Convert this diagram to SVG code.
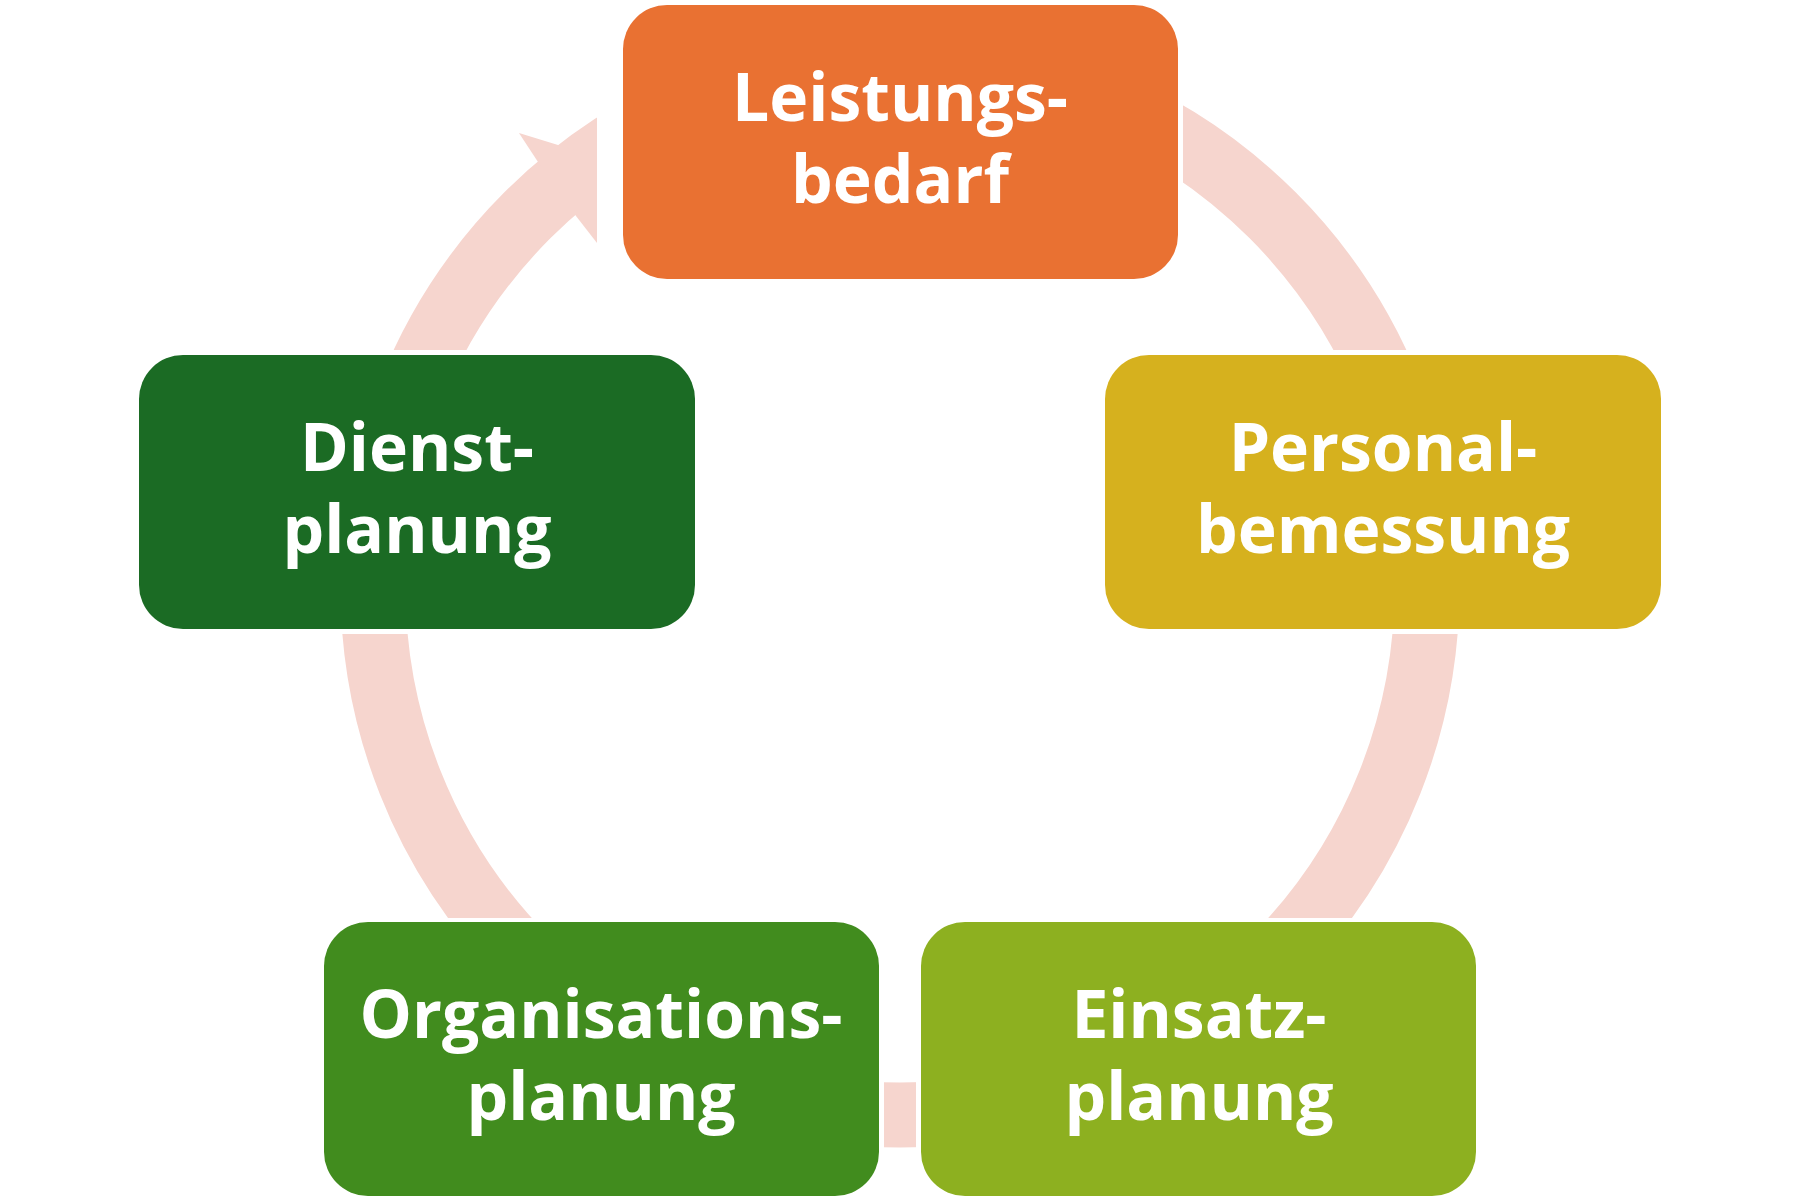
<svg xmlns="http://www.w3.org/2000/svg" width="1800" height="1202" viewBox="0 0 1800 1202">
<style>
.box{stroke:none}
.m{fill:#fff}
.t{font-family:"Open Sans","Liberation Sans",sans-serif;font-weight:700;font-size:66px;fill:#fff;text-anchor:middle}
</style>
<rect width="1800" height="1202" fill="#fff"/>
<g id="connectors">
<circle cx="900" cy="588" r="527" fill="none" stroke="#F6D5CE" stroke-width="65"/>
<rect class="m" x="597" y="0" width="586" height="284"/>
<rect class="m" x="134" y="350" width="566" height="284"/>
<rect class="m" x="1100" y="350" width="566" height="284"/>
<rect class="m" x="319" y="918" width="565" height="284"/>
<rect class="m" x="916" y="918" width="565" height="284"/>
<polygon points="538,162 519,133 597,157 597,243 576,216" fill="#F6D5CE"/>
</g>
<g id="n1"><rect class="box" x="623" y="5" width="555" height="274" rx="44" fill="#E97132"/>
<text class="t" x="900" y="121">Leistungs-</text><text class="t" x="900" y="203">bedarf</text></g>
<g id="n2"><rect class="box" x="1105" y="355" width="556" height="274" rx="44" fill="#D6B11E"/>
<text class="t" x="1383" y="471">Personal-</text><text class="t" x="1383" y="553">bemessung</text></g>
<g id="n3"><rect class="box" x="921" y="922" width="555" height="274" rx="44" fill="#8DB020"/>
<text class="t" x="1199" y="1038">Einsatz-</text><text class="t" x="1199" y="1120">planung</text></g>
<g id="n4"><rect class="box" x="324" y="922" width="555" height="274" rx="44" fill="#418C1E"/>
<text class="t" x="601" y="1038">Organisations-</text><text class="t" x="601" y="1120">planung</text></g>
<g id="n5"><rect class="box" x="139" y="355" width="556" height="274" rx="44" fill="#1B6B24"/>
<text class="t" x="417" y="471">Dienst-</text><text class="t" x="417" y="553">planung</text></g>
</svg>
